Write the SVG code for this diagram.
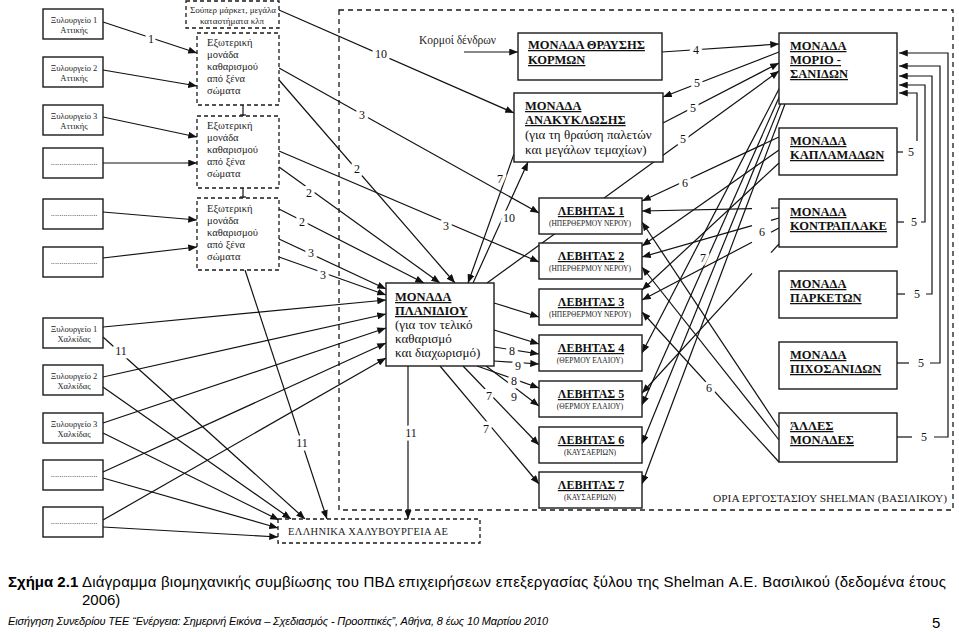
<svg xmlns="http://www.w3.org/2000/svg" width="959" height="632" viewBox="0 0 959 632">
<defs>
<marker id="ah" viewBox="0 0 10 8" refX="10" refY="4" markerWidth="9" markerHeight="7" markerUnits="userSpaceOnUse" orient="auto"><path d="M0,0 L10,4 L0,8 z" fill="#111"/></marker>
<style>
.box{fill:#fff;stroke:#1a1a1a;stroke-width:1.4}
.dbox{fill:#fff;stroke:#1a1a1a;stroke-width:1.3;stroke-dasharray:4 3}
.bound{fill:none;stroke:#1a1a1a;stroke-width:1.3;stroke-dasharray:5 4}
.ln{stroke:#111;stroke-width:1.2;fill:none}
.a{marker-end:url(#ah)}
.src{font-family:"Liberation Serif",serif;font-size:8.5px;fill:#222;text-anchor:middle}
.sup{font-family:"Liberation Serif",serif;font-size:9px;fill:#222;text-anchor:middle}
.ext{font-family:"Liberation Serif",serif;font-size:10.5px;fill:#222}
.ttl{font-family:"Liberation Serif",serif;font-size:12.5px;font-weight:bold;fill:#111;text-decoration:underline}
.body{font-family:"Liberation Serif",serif;font-size:13px;fill:#111}
.lvt{font-family:"Liberation Serif",serif;font-size:12px;font-weight:bold;fill:#111;text-decoration:underline;text-anchor:middle}
.lvs{font-family:"Liberation Serif",serif;font-size:7.5px;fill:#222;text-anchor:middle}
.lb{font-family:"Liberation Serif",serif;font-size:12px;fill:#111;text-anchor:middle;stroke:#fff;stroke-width:7;paint-order:stroke;stroke-linejoin:round}
.cap{font-family:"Liberation Sans",Arial,sans-serif;font-size:15px;fill:#000}
</style>
</defs>
<rect width="959" height="632" fill="#fff"/>

<g id="boundary">
<rect class="bound" x="339" y="10" width="614" height="500"/>
<text x="713" y="502" font-family="Liberation Serif, serif" font-size="10.5" fill="#222" textLength="234" lengthAdjust="spacingAndGlyphs">ΟΡΙΑ ΕΡΓΟΣΤΑΣΙΟΥ SHELMAN (ΒΑΣΙΛΙΚΟΥ)</text>
</g>

<g id="connectors">
<line class="ln a" x1="103" y1="22" x2="197" y2="53"/>
<line class="ln a" x1="103" y1="70" x2="197" y2="86"/>
<line class="ln a" x1="103" y1="117" x2="197" y2="137"/>
<line class="ln a" x1="103" y1="163" x2="197" y2="163"/>
<line class="ln a" x1="103" y1="212" x2="197" y2="220"/>
<line class="ln a" x1="103" y1="258" x2="197" y2="247"/>
<line class="ln a" x1="279" y1="10" x2="514" y2="113"/>
<line class="ln a" x1="279" y1="68" x2="539" y2="213"/>
<line class="ln a" x1="279" y1="80" x2="455" y2="283"/>
<line class="ln a" x1="279" y1="151" x2="539" y2="262"/>
<line class="ln a" x1="279" y1="167" x2="440" y2="283"/>
<line class="ln a" x1="279" y1="209" x2="424" y2="283"/>
<line class="ln a" x1="279" y1="239" x2="386" y2="289"/>
<line class="ln a" x1="279" y1="257" x2="386" y2="295"/>
<line class="ln a" x1="245" y1="270" x2="327" y2="519"/>
<line class="ln a" x1="103" y1="327" x2="386" y2="300"/>
<line class="ln a" x1="103" y1="377" x2="386" y2="314"/>
<line class="ln a" x1="103" y1="423" x2="386" y2="328"/>
<line class="ln a" x1="103" y1="472" x2="386" y2="343"/>
<line class="ln a" x1="103" y1="520" x2="386" y2="358"/>
<line class="ln a" x1="103" y1="337" x2="305" y2="519"/>
<line class="ln a" x1="103" y1="387" x2="291" y2="519"/>
<line class="ln a" x1="103" y1="433" x2="279" y2="520"/>
<line class="ln a" x1="103" y1="478" x2="278" y2="528"/>
<line class="ln a" x1="103" y1="527" x2="278" y2="537"/>
<line class="ln a" x1="408" y1="366" x2="408" y2="519"/>
<line class="ln a" x1="464" y1="52" x2="518" y2="52"/>
<line class="ln a" x1="662" y1="52" x2="779" y2="44"/>
<line class="ln a" x1="779" y1="52" x2="663" y2="97"/>
<line class="ln a" x1="663" y1="123" x2="779" y2="63"/>
<line class="ln a" x1="487" y1="283" x2="779" y2="71"/>
<line class="ln a" x1="514" y1="154" x2="468" y2="283"/>
<line class="ln a" x1="473" y1="283" x2="528" y2="162"/>
<line class="ln a" x1="494" y1="303" x2="539" y2="317"/>
<line class="ln a" x1="494" y1="330" x2="539" y2="344"/>
<line class="ln a" x1="494" y1="347" x2="539" y2="354"/>
<line class="ln a" x1="494" y1="361" x2="539" y2="364"/>
<line class="ln a" x1="477" y1="366" x2="539" y2="388"/>
<line class="ln a" x1="486" y1="366" x2="539" y2="406"/>
<line class="ln a" x1="463" y1="366" x2="539" y2="445"/>
<line class="ln a" x1="440" y1="366" x2="539" y2="484"/>
<line class="ln a" x1="779" y1="137" x2="642" y2="201"/>
<line class="ln a" x1="779" y1="150" x2="642" y2="246"/>
<line class="ln a" x1="779" y1="163" x2="642" y2="290"/>
<line class="ln" x1="779" y1="208" x2="771" y2="208.2"/>
<line class="ln a" x1="752" y1="208.6" x2="642" y2="211"/>
<line class="ln" x1="779" y1="218" x2="771" y2="220.3"/>
<line class="ln a" x1="752" y1="225.7" x2="642" y2="257"/>
<line class="ln" x1="779" y1="228" x2="771" y2="232.2"/>
<line class="ln a" x1="752" y1="242.2" x2="642" y2="300"/>
<line class="ln" x1="779" y1="244" x2="771" y2="252.7"/>
<line class="ln a" x1="752" y1="273.4" x2="642" y2="393"/>
<line class="ln a" x1="780" y1="87" x2="642" y2="353"/>
<line class="ln a" x1="781" y1="93" x2="642" y2="405"/>
<line class="ln a" x1="783" y1="98" x2="642" y2="444"/>
<line class="ln a" x1="785" y1="104" x2="642" y2="484"/>
<line class="ln a" x1="779" y1="428" x2="642" y2="222"/>
<line class="ln a" x1="779" y1="440" x2="642" y2="267"/>
<line class="ln a" x1="779" y1="462" x2="642" y2="312"/>
<line class="ln" x1="897" y1="152" x2="903" y2="152"/>
<polyline class="ln a" points="917,141 917,93 899,93"/>
<line class="ln" x1="897" y1="222" x2="904" y2="222"/>
<polyline class="ln a" points="921,222 925,222 925,85 899,85"/>
<line class="ln" x1="897" y1="294" x2="905" y2="294"/>
<polyline class="ln a" points="926,294 932,294 932,76 899,76"/>
<line class="ln" x1="897" y1="363" x2="909" y2="363"/>
<polyline class="ln a" points="930,363 940,363 940,66 899,66"/>
<line class="ln" x1="897" y1="437" x2="912" y2="437"/>
<polyline class="ln a" points="934,437 948,437 948,53 899,53"/>
<line class="ln" x1="243" y1="105" x2="243" y2="116"/>
<line class="ln" x1="240" y1="115" x2="246" y2="115"/>
<line class="ln" x1="243" y1="188" x2="243" y2="198"/>
<line class="ln" x1="240" y1="197" x2="246" y2="197"/>
</g>

<g id="src-attiki1"><rect class="box" x="43" y="9" width="60" height="30"/><text class="src" x="74" y="23">Ξυλουργείο 1</text><text class="src" x="74" y="33">Αττικής</text></g>
<g id="src-attiki2"><rect class="box" x="43" y="57" width="60" height="30"/><text class="src" x="74" y="71">Ξυλουργείο 2</text><text class="src" x="74" y="81">Αττικής</text></g>
<g id="src-attiki3"><rect class="box" x="43" y="105" width="60" height="30"/><text class="src" x="74" y="119">Ξυλουργείο 3</text><text class="src" x="74" y="129">Αττικής</text></g>
<g id="src-dots1"><rect class="box" x="43" y="148" width="60" height="30"/><text class="src" x="74" y="165">......................</text></g>
<g id="src-dots2"><rect class="box" x="43" y="199" width="60" height="30"/><text class="src" x="74" y="216">......................</text></g>
<g id="src-dots3"><rect class="box" x="43" y="247" width="60" height="30"/><text class="src" x="74" y="264">......................</text></g>
<g id="src-chalkida1"><rect class="box" x="43" y="318" width="60" height="30"/><text class="src" x="74" y="332">Ξυλουργείο 1</text><text class="src" x="74" y="342">Χαλκίδας</text></g>
<g id="src-chalkida2"><rect class="box" x="43" y="365" width="60" height="30"/><text class="src" x="74" y="379">Ξυλουργείο 2</text><text class="src" x="74" y="389">Χαλκίδας</text></g>
<g id="src-chalkida3"><rect class="box" x="43" y="413" width="60" height="30"/><text class="src" x="74" y="427">Ξυλουργείο 3</text><text class="src" x="74" y="437">Χαλκίδας</text></g>
<g id="src-dots4"><rect class="box" x="43" y="460" width="60" height="30"/><text class="src" x="74" y="477">......................</text></g>
<g id="src-dots5"><rect class="box" x="43" y="507" width="60" height="30"/><text class="src" x="74" y="524">......................</text></g>

<g id="supermarket"><rect class="dbox" x="186" y="1" width="93" height="27"/><text class="sup" x="233" y="13">Σούπερ μάρκετ, μεγάλα</text><text class="sup" x="232" y="24">καταστήματα κλπ</text></g>
<g id="ext-clean1"><rect class="dbox" x="197" y="33" width="82" height="72"/><text class="ext" x="207" y="46">Εξωτερική</text><text class="ext" x="207" y="58">μονάδα</text><text class="ext" x="207" y="70">καθαρισμού</text><text class="ext" x="207" y="82">από ξένα</text><text class="ext" x="207" y="94">σώματα</text></g>
<g id="ext-clean2"><rect class="dbox" x="197" y="116" width="82" height="72"/><text class="ext" x="207" y="129">Εξωτερική</text><text class="ext" x="207" y="141">μονάδα</text><text class="ext" x="207" y="153">καθαρισμού</text><text class="ext" x="207" y="165">από ξένα</text><text class="ext" x="207" y="177">σώματα</text></g>
<g id="ext-clean3"><rect class="dbox" x="197" y="198" width="82" height="72"/><text class="ext" x="207" y="212">Εξωτερική</text><text class="ext" x="207" y="224">μονάδα</text><text class="ext" x="207" y="236">καθαρισμού</text><text class="ext" x="207" y="248">από ξένα</text><text class="ext" x="207" y="260">σώματα</text></g>

<g id="hellenic-steel"><rect class="dbox" x="278" y="519" width="202" height="24"/><text x="288" y="535" font-family="Liberation Serif, serif" font-size="10.5" fill="#222" textLength="160" lengthAdjust="spacing">ΕΛΛΗΝΙΚΑ ΧΑΛΥΒΟΥΡΓΕΙΑ ΑΕ</text></g>

<g id="logs-input"><text x="419" y="44" font-family="Liberation Serif, serif" font-size="11.5" fill="#222">Κορμοί δένδρων</text></g>

<g id="crushing"><rect class="box" x="518" y="33" width="144" height="47"/><text class="ttl" x="528" y="49">ΜΟΝΑΔΑ ΘΡΑΥΣΗΣ</text><text class="ttl" x="528" y="64">ΚΟΡΜΩΝ</text></g>
<g id="recycling"><rect class="box" x="514" y="93" width="149" height="69"/><text class="ttl" x="525" y="110">ΜΟΝΑΔΑ</text><text class="ttl" x="525" y="124">ΑΝΑΚΥΚΛΩΣΗΣ</text><text class="body" x="525" y="139">(για τη θραύση παλετών</text><text class="body" x="525" y="154">και  μεγάλων τεμαχίων)</text></g>
<g id="planing"><rect class="box" x="386" y="283" width="108" height="83"/><text class="ttl" x="395" y="301">ΜΟΝΑΔΑ</text><text class="ttl" x="395" y="315">ΠΛΑΝΙΔΙΟΥ</text><text class="body" x="395" y="329">(για τον τελικό</text><text class="body" x="395" y="343">καθαρισμό</text><text class="body" x="395" y="357">και διαχωρισμό)</text></g>

<g id="boiler1"><rect class="box" x="539" y="198" width="103" height="36"/><text class="lvt" x="591" y="215">ΛΕΒΗΤΑΣ 1</text><text class="lvs" x="590" y="226">(ΗΠΕΡΘΕΡΜΟΥ ΝΕΡΟΥ)</text></g>
<g id="boiler2"><rect class="box" x="539" y="243" width="103" height="36"/><text class="lvt" x="591" y="260">ΛΕΒΗΤΑΣ 2</text><text class="lvs" x="590" y="271">(ΗΠΕΡΘΕΡΜΟΥ ΝΕΡΟΥ)</text></g>
<g id="boiler3"><rect class="box" x="539" y="289" width="103" height="36"/><text class="lvt" x="591" y="306">ΛΕΒΗΤΑΣ 3</text><text class="lvs" x="590" y="317">(ΗΠΕΡΘΕΡΜΟΥ ΝΕΡΟΥ)</text></g>
<g id="boiler4"><rect class="box" x="539" y="335" width="103" height="36"/><text class="lvt" x="591" y="352">ΛΕΒΗΤΑΣ 4</text><text class="lvs" x="590" y="363">(ΘΕΡΜΟΥ ΕΛΑΙΟΥ)</text></g>
<g id="boiler5"><rect class="box" x="539" y="381" width="103" height="36"/><text class="lvt" x="591" y="398">ΛΕΒΗΤΑΣ 5</text><text class="lvs" x="590" y="409">(ΘΕΡΜΟΥ ΕΛΑΙΟΥ)</text></g>
<g id="boiler6"><rect class="box" x="539" y="427" width="103" height="36"/><text class="lvt" x="591" y="444">ΛΕΒΗΤΑΣ 6</text><text class="lvs" x="590" y="455">(ΚΑΥΣΑΕΡΙΩΝ)</text></g>
<g id="boiler7"><rect class="box" x="539" y="472" width="103" height="36"/><text class="lvt" x="591" y="489">ΛΕΒΗΤΑΣ 7</text><text class="lvs" x="590" y="500">(ΚΑΥΣΑΕΡΙΩΝ)</text></g>

<g id="chipboard"><rect class="box" x="779" y="33" width="118" height="71"/><text class="ttl" x="790" y="50">ΜΟΝΑΔΑ</text><text class="ttl" x="790" y="64">ΜΟΡΙΟ -</text><text class="ttl" x="790" y="78">ΣΑΝΙΔΩΝ</text></g>
<g id="veneer"><rect class="box" x="779" y="128" width="118" height="47"/><text class="ttl" x="790" y="145">ΜΟΝΑΔΑ</text><text class="ttl" x="790" y="159">ΚΑΠΛΑΜΑΔΩΝ</text></g>
<g id="plywood"><rect class="box" x="779" y="199" width="118" height="48"/><text class="ttl" x="790" y="216">ΜΟΝΑΔΑ</text><text class="ttl" x="790" y="230">ΚΟΝΤΡΑΠΛΑΚΕ</text></g>
<g id="parquet"><rect class="box" x="779" y="271" width="118" height="47"/><text class="ttl" x="790" y="288">ΜΟΝΑΔΑ</text><text class="ttl" x="790" y="302">ΠΑΡΚΕΤΩΝ</text></g>
<g id="battens"><rect class="box" x="779" y="342" width="118" height="47"/><text class="ttl" x="790" y="359">ΜΟΝΑΔΑ</text><text class="ttl" x="790" y="373">ΠΙΧΟΣΑΝΙΔΩΝ</text></g>
<g id="other-units"><rect class="box" x="779" y="413" width="118" height="49"/><text class="ttl" x="790" y="430">ΆΛΛΕΣ</text><text class="ttl" x="790" y="444">ΜΟΝΑΔΕΣ</text></g>

<g id="connector-labels">
<text class="lb" x="151" y="43">1</text>
<text class="lb" x="381" y="58">10</text>
<text class="lb" x="362" y="119">3</text>
<text class="lb" x="357" y="173">2</text>
<text class="lb" x="446" y="230">3</text>
<text class="lb" x="309" y="197">2</text>
<text class="lb" x="302" y="226">2</text>
<text class="lb" x="311" y="257">3</text>
<text class="lb" x="323" y="279">3</text>
<text class="lb" x="302" y="447">11</text>
<text class="lb" x="121" y="355">11</text>
<text class="lb" x="411" y="437">11</text>
<text class="lb" x="696" y="54">4</text>
<text class="lb" x="697" y="87">5</text>
<text class="lb" x="693" y="112">5</text>
<text class="lb" x="683" y="143">5</text>
<text class="lb" x="685" y="187">6</text>
<text class="lb" x="500" y="183">7</text>
<text class="lb" x="509" y="222">10</text>
<text class="lb" x="512" y="355">8</text>
<text class="lb" x="518" y="370">9</text>
<text class="lb" x="514" y="385">8</text>
<text class="lb" x="514" y="401">9</text>
<text class="lb" x="489" y="400">7</text>
<text class="lb" x="486" y="433">7</text>
<text class="lb" x="762" y="236">6</text>
<text class="lb" x="703" y="262">7</text>
<text class="lb" x="709" y="392">6</text>
<text class="lb" x="911" y="156">5</text>
<text class="lb" x="914" y="226">5</text>
<text class="lb" x="917" y="298">5</text>
<text class="lb" x="921" y="367">5</text>
<text class="lb" x="924" y="441">5</text>
</g>

<g id="caption">
<text class="cap" x="8" y="587" font-weight="bold">Σχήμα 2.1</text>
<text class="cap" x="82" y="587" textLength="864" lengthAdjust="spacing">Διάγραμμα βιομηχανικής συμβίωσης του ΠΒΔ επιχειρήσεων επεξεργασίας ξύλου της Shelman Α.Ε. Βασιλικού (δεδομένα έτους</text>
<text class="cap" x="82" y="605">2006)</text>
<text x="8" y="625" font-family="Liberation Sans, Arial, sans-serif" font-size="11" font-style="italic" fill="#000" textLength="540" lengthAdjust="spacing">Εισήγηση Συνεδρίου ΤΕΕ “Ενέργεια: Σημερινή Εικόνα – Σχεδιασμός - Προοπτικές”, Αθήνα, 8 έως 10 Μαρτίου 2010</text>
<text class="cap" x="932" y="628">5</text>
</g>
</svg>
